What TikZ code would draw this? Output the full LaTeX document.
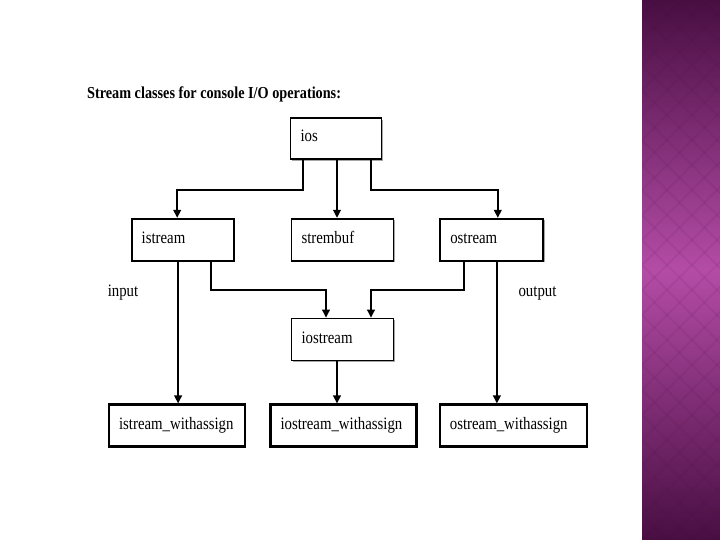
\documentclass[tikz,border=0pt]{standalone}
\usepackage{fontspec}
\setmainfont[FakeStretch=0.85]{Liberation Serif}
\usetikzlibrary{arrows.meta, positioning, shadows}

\definecolor{barDark}{RGB}{72,14,66}
\definecolor{barLight}{RGB}{180,76,166}

\begin{document}
\begin{tikzpicture}[
    x=1bp, y=1bp,
    node distance=56bp,
    cls/.style={draw, line width=1.8bp, fill=white, align=left, inner xsep=10bp, inner ysep=0pt, minimum height=42bp,
        text height=12bp, text depth=5bp, font=\fontsize{17.5}{19}\selectfont,
        drop shadow={shadow xshift=1.6bp, shadow yshift=-1.6bp, fill=gray!70, opacity=1}},
    leaf/.style={draw, line width=2.4bp, fill=white, align=left, inner xsep=10bp, inner ysep=0pt, minimum height=42bp,
        text height=12bp, text depth=5bp, font=\fontsize{17.5}{19}\selectfont},
    lbl/.style={inner sep=0pt, font=\fontsize{17.5}{19}\selectfont},
    arr/.style={-{Triangle[length=8bp, width=7.5bp]}, line width=2bp}
]
\useasboundingbox (0,0) rectangle (720,540);

% side bar
\shade[top color=barDark, bottom color=barDark, middle color=barLight] (642,0) rectangle (720,540);
\begin{scope}
\clip (642,0) rectangle (720,540);
\foreach \k in {-4,...,26}
    \draw[barDark, opacity=0.08, line width=2bp] (642,\k*25) -- ++(110,110) (642,\k*25) -- ++(110,-110);
\end{scope}

\node[lbl, anchor=west, font=\fontsize{16.8}{19}\selectfont\bfseries] (title) at (87,446) {Stream classes for console I/O operations:};

\node[cls, text width=71bp, minimum height=41bp] (ios) at (336,401.5) {ios};
\node[cls, text width=82bp, below=58bp of ios, xshift=6.5bp] (strembuf) {strembuf};
\node[cls, text width=82bp, left=56bp of strembuf] (istream) {istream};
\node[cls, text width=83bp, right=45bp of strembuf] (ostream) {ostream};
\node[cls, text width=82bp, below=56bp of strembuf] (iostream) {iostream};
\node[leaf, text width=126bp, below=42bp of iostream, xshift=1bp] (iostreamwa) {iostream\_withassign};
\node[leaf, text width=116bp, left=23bp of iostreamwa] (istreamwa) {istream\_withassign};
\node[leaf, text width=127bp, right=21bp of iostreamwa] (ostreamwa) {ostream\_withassign};

\node[lbl] (input) at (123,247) {input};
\node[lbl] (output) at (537.5,247) {output};

\draw[arr] ([xshift=-33bp]ios.south) -- ++(0,-30bp) -| ([xshift=-5.5bp]istream.north);
\draw[arr] ([xshift=1bp]ios.south) -| ([xshift=-5.5bp]strembuf.north);
\draw[arr] ([xshift=35bp]ios.south) -- ++(0,-30bp) -| ([xshift=6bp]ostream.north);
\draw[arr] ([xshift=-5.5bp]istream.south) -| ([xshift=1bp]istreamwa.north);
\draw[arr] ([xshift=28.5bp]istream.south) -- ++(0,-28bp) -| ([xshift=-16.5bp]iostream.north);
\draw[arr] ([xshift=-28bp]ostream.south) -- ++(0,-28bp) -| ([xshift=28.5bp]iostream.north);
\draw[arr] ([xshift=6bp]ostream.south) -| ([xshift=-16.5bp]ostreamwa.north);
\draw[arr] ([xshift=-5.5bp]iostream.south) -| ([xshift=-6.5bp]iostreamwa.north);
\end{tikzpicture}
\end{document}
